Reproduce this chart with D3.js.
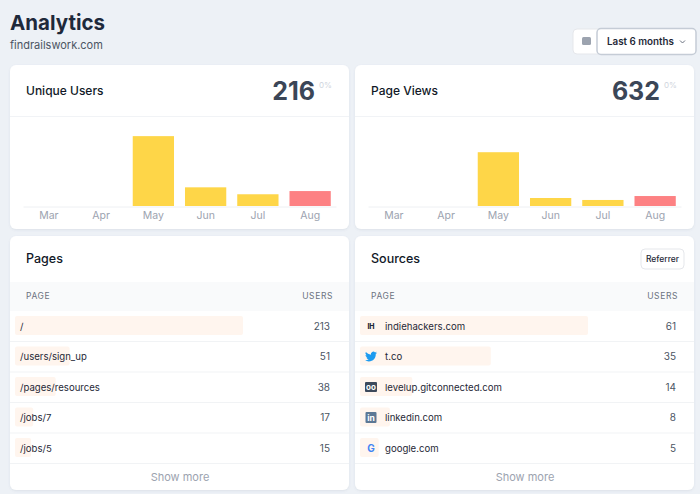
<!DOCTYPE html>
<html>
<head>
<meta charset="utf-8">
<script src="https://cdn.jsdelivr.net/npm/d3@7"></script>
<style>
  body { margin: 0; background: #edf1f6; font-family: Inter, "Noto Sans", sans-serif; }
  svg { display: block; }
</style>
</head>
<body>
<script>
// chart data
const months = ["Mar", "Apr", "May", "Jun", "Jul", "Aug"];
const uniqueUsers = [0, 0, 131, 35, 22, 28];
const pageViews = [0, 0, 437, 65, 49, 81];
const chartMax = [150, 650];
const totals = ["216", "632"];

const pagePaths = ["/", "/users/sign_up", "/pages/resources", "/jobs/7", "/jobs/5"];
const pageUsers = [213, 51, 38, 17, 15];

const sources = ["indiehackers.com", "t.co", "levelup.gitconnected.com", "linkedin.com", "google.com"];
const sourceUsers = [61, 35, 14, 8, 5];

const W = 700, H = 494;
const svg = d3.select("body").append("svg").attr("width", W).attr("height", H);

const defs = svg.append("defs");
defs.append("filter").attr("id", "shadow")
    .attr("x", "-5%").attr("y", "-5%").attr("width", "110%").attr("height", "115%")
  .append("feDropShadow")
    .attr("dx", 0).attr("dy", 1).attr("stdDeviation", 1)
    .attr("flood-color", "#64748b").attr("flood-opacity", 0.12);

// header
svg.append("text").attr("x", 10).attr("y", 29.5)
    .attr("font-size", 20.5).attr("font-weight", 700).attr("fill", "#1e293b")
    .text("Analytics");
svg.append("text").attr("x", 10).attr("y", 49)
    .attr("font-size", 11).attr("fill", "#4b5563")
    .text("findrailswork.com");

// date picker
let picker = svg.append("g");
picker.append("rect").attr("x", 573).attr("y", 29).attr("width", 30).attr("height", 25)
    .attr("rx", 4).attr("fill", "#fff").attr("stroke", "#e5e7eb");
picker.append("rect").attr("x", 582).attr("y", 37).attr("width", 9).attr("height", 8)
    .attr("rx", 1.5).attr("fill", "#9ca3af");
picker.append("rect").attr("x", 597).attr("y", 28.5).attr("width", 99).attr("height", 26)
    .attr("rx", 4).attr("fill", "#fff").attr("stroke", "#c5ccd6").attr("stroke-width", 1.5);
picker.append("text").attr("x", 607).attr("y", 45)
    .attr("font-size", 9.8).attr("font-weight", 600).attr("fill", "#1f2937")
    .text("Last 6 months");
picker.append("path").attr("d", "M680,40.5 l2.5,2.5 l2.5,-2.5")
    .attr("fill", "none").attr("stroke", "#6b7280").attr("stroke-width", 1);

function card(x, y, w, h){
    return svg.append("rect").attr("x", x).attr("y", y).attr("width", w).attr("height", h)
        .attr("rx", 6).attr("fill", "#fff").attr("filter", "url(#shadow)");
}

// bar chart cards
function barCard(x0, title, total, values, yMax){
    card(x0, 65, 339, 164);
    let g = svg.append("g");
    g.append("text").attr("x", x0 + 16).attr("y", 94.5)
        .attr("font-size", 12).attr("font-weight", 500).attr("fill", "#111827").text(title);
    g.append("text").attr("x", x0 + 305).attr("y", 100).attr("text-anchor", "end")
        .attr("font-size", 25).attr("font-weight", 700).attr("fill", "#3b4657").text(total);
    g.append("text").attr("x", x0 + 309).attr("y", 88)
        .attr("font-size", 8).attr("fill", "#cfd5dd").text("0%");
    g.append("line").attr("x1", x0).attr("x2", x0 + 339).attr("y1", 116.5).attr("y2", 116.5)
        .attr("stroke", "#f1f3f6");

    let x = d3.scaleBand().domain(months).range([x0 + 13, x0 + 326]).paddingInner(0.21).paddingOuter(0.1);
    let y = d3.scaleLinear().domain([0, yMax]).range([206, 126]);

    g.selectAll("rect.bar").data(values).enter().append("rect")
        .attr("class", "bar")
        .attr("x", (d, i) => x(months[i]))
        .attr("width", x.bandwidth())
        .attr("y", d => y(d))
        .attr("height", d => y(0) - y(d))
        .attr("fill", (d, i) => i === months.length - 1 ? "#fd8183" : "#fed648");

    let axis = g.append("g").attr("transform", "translate(0,206.5)")
        .call(d3.axisBottom(x).tickSize(0).tickPadding(5));
    axis.select(".domain").attr("stroke", "#eef0f3");
    axis.selectAll("text").attr("font-size", 10.5).attr("fill", "#9ca3af")
        .attr("font-family", "Inter, sans-serif");
}

barCard(10, "Unique Users", totals[0], uniqueUsers, chartMax[0]);
barCard(355, "Page Views", totals[1], pageViews, chartMax[1]);

// icons for sources
function drawIcon(g, i, cx, cy){
    if(i === 0){
        g.append("text").attr("x", cx).attr("y", cy + 2.5).attr("text-anchor", "middle")
            .attr("font-size", 7).attr("font-weight", 800).attr("fill", "#1f2937").text("IH");
    } else if(i === 1){
        g.append("path")
            .attr("d", "M23.95 4.57a10 10 0 01-2.82.77 4.96 4.96 0 002.16-2.72c-.95.56-2 .96-3.12 1.19a4.92 4.92 0 00-8.38 4.48A13.94 13.94 0 011.64 3.16a4.92 4.92 0 001.52 6.57 4.9 4.9 0 01-2.23-.61v.06c0 2.38 1.7 4.37 3.950 4.83a4.96 4.96 0 01-2.21.08 4.93 4.93 0 004.6 3.42A9.87 9.87 0 010 19.54a13.94 13.94 0 007.55 2.21c9.05 0 14-7.5 14-13.98 0-.21 0-.42-.02-.63A9.94 9.94 0 0024 4.59z")
            .attr("transform", `translate(${cx - 6},${cy - 6}) scale(0.5)`)
            .attr("fill", "#1d9bf0");
    } else if(i === 2){
        g.append("rect").attr("x", cx - 6).attr("y", cy - 5).attr("width", 12).attr("height", 10)
            .attr("rx", 1).attr("fill", "#3d4a5c");
        g.append("text").attr("x", cx).attr("y", cy + 2.5).attr("text-anchor", "middle")
            .attr("font-size", 8).attr("font-weight", 700).attr("fill", "#fff").text("oo");
    } else if(i === 3){
        g.append("rect").attr("x", cx - 5.5).attr("y", cy - 5.5).attr("width", 11).attr("height", 11)
            .attr("rx", 1).attr("fill", "#5c7895");
        g.append("text").attr("x", cx).attr("y", cy + 3.5).attr("text-anchor", "middle")
            .attr("font-size", 8.5).attr("font-weight", 700).attr("fill", "#fff").text("in");
    } else {
        g.append("text").attr("x", cx).attr("y", cy + 3.5).attr("text-anchor", "middle")
            .attr("font-size", 10).attr("font-weight", 700).attr("fill", "#4285f4").text("G");
    }
}

// table cards
function tableCard(x0, title, labels, values, withIcons){
    card(x0, 236, 339, 254);
    let g = svg.append("g");
    g.append("text").attr("x", x0 + 16).attr("y", 263)
        .attr("font-size", 12.5).attr("font-weight", 500).attr("fill", "#111827").text(title);

    g.append("rect").attr("x", x0).attr("y", 282).attr("width", 339).attr("height", 29)
        .attr("fill", "#f9fafb");
    g.append("text").attr("x", x0 + 16).attr("y", 299)
        .attr("font-size", 8.5).attr("letter-spacing", 0.6).attr("fill", "#6b7280").text("PAGE");
    g.append("text").attr("x", x0 + 323).attr("y", 299).attr("text-anchor", "end")
        .attr("font-size", 8.5).attr("letter-spacing", 0.6).attr("fill", "#6b7280").text("USERS");

    let rowH = 30.5, top = 311;
    let w = d3.scaleLinear().domain([0, d3.max(values)]).range([0, 228]);

    let rows = g.selectAll("g.row").data(values).enter().append("g")
        .attr("class", "row")
        .attr("transform", (d, i) => `translate(0,${top + i * rowH})`);

    rows.append("rect")
        .attr("x", x0 + 5).attr("y", 5)
        .attr("width", d => w(d)).attr("height", 19)
        .attr("rx", 2).attr("fill", "#fff5ee");

    rows.append("line")
        .attr("x1", x0).attr("x2", x0 + 339).attr("y1", rowH).attr("y2", rowH)
        .attr("stroke", "#f1f3f5");

    let textX = withIcons ? x0 + 30 : x0 + 10;
    rows.append("text")
        .attr("x", textX).attr("y", 18.5)
        .attr("font-size", 9.6).attr("fill", "#1f2937")
        .text((d, i) => labels[i]);

    rows.append("text")
        .attr("x", x0 + (withIcons ? 321 : 320)).attr("y", 18.5).attr("text-anchor", "end")
        .attr("font-size", 10).attr("fill", "#4b5563")
        .text(d => d);

    if(withIcons){
        rows.each(function(d, i){
            drawIcon(d3.select(this), i, x0 + 16, 15);
        });
    }

    g.append("text").attr("x", x0 + 170).attr("y", 481).attr("text-anchor", "middle")
        .attr("font-size", 11).attr("fill", "#9ca3af").text("Show more");
    return g;
}

tableCard(10, "Pages", pagePaths, pageUsers, false);
let src = tableCard(355, "Sources", sources, sourceUsers, true);
src.append("rect").attr("x", 641).attr("y", 249).attr("width", 43).attr("height", 20)
    .attr("rx", 4).attr("fill", "#fff").attr("stroke", "#e5e7eb");
src.append("text").attr("x", 662.5).attr("y", 262).attr("text-anchor", "middle")
    .attr("font-size", 8.5).attr("font-weight", 500).attr("fill", "#1f2937").text("Referrer");
</script>
</body>
</html>
